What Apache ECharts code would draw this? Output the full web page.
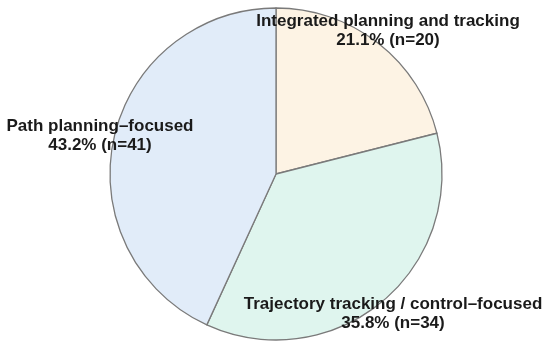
<!DOCTYPE html>
<html><head><meta charset="utf-8">
<script src="https://cdn.jsdelivr.net/npm/echarts@6/dist/echarts.min.js"></script>
<style>html,body{margin:0;padding:0;background:#fff}#c{width:550px;height:348px}</style>
</head><body><div id="c"></div>
<script>
const categories = ["Integrated planning and tracking", "Trajectory tracking / control\u2013focused", "Path planning\u2013focused"];
const counts = [20, 34, 41];
const percents = ["21.1%", "35.8%", "43.2%"];
const colors = ["#fdf3e4", "#dff5ee", "#e1ecf9"];
const labelPos = [[388, 31], [393, 314], [100, 136]];

const chart = echarts.init(document.getElementById('c'), null, {renderer: 'canvas'});
chart.setOption({
  animation: false,
  series: [{
    type: 'pie',
    center: [276, 174],
    radius: 166,
    startAngle: 90,
    clockwise: true,
    data: categories.map((c, i) => ({name: c, value: counts[i], itemStyle: {color: colors[i]}})),
    itemStyle: {borderColor: '#7a7a7a', borderWidth: 1.3},
    label: {
      show: true,
      position: 'inside',
      formatter: p => p.name + '\n' + percents[p.dataIndex] + ' (n=' + p.value + ')',
      fontFamily: 'Liberation Sans, Arial, sans-serif',
      fontWeight: 'bold',
      fontSize: 17,
      lineHeight: 19,
      color: '#1a1a1a',
      align: 'center'
    },
    labelLine: {show: false},
    labelLayout: p => ({x: labelPos[p.dataIndex][0], y: labelPos[p.dataIndex][1], align: 'center', verticalAlign: 'middle'}),
    emphasis: {disabled: true}
  }]
});
</script></body></html>
